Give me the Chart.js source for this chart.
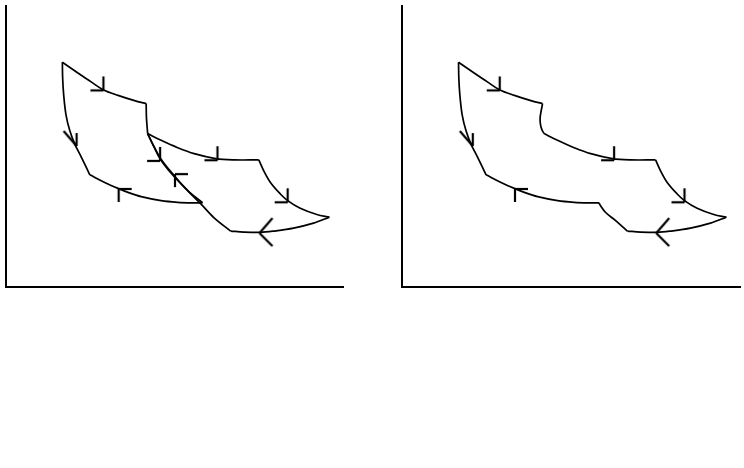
<!DOCTYPE html>
<html><head><meta charset="utf-8">
<script src="https://cdn.jsdelivr.net/npm/chart.js@4/dist/chart.umd.min.js"></script>
<style>
html,body{margin:0;padding:0;background:#fff;width:744px;height:468px;overflow:hidden}
.box{position:absolute;top:0;width:350px;height:300px}
</style></head><body>
<div class="box" style="left:0"><canvas id="c1" width="350" height="300"></canvas></div>
<div class="box" style="left:396px"><canvas id="c2" width="350" height="300"></canvas></div>
<script>
// ---- data (volume V, pressure P, arbitrary units) ----
// cycle A
const A1_expansion = [[56.7,226.3],[72.7,215.3],[86,206.3],[97.7,198.7],[112.7,193],[129.3,187.7],[141,184.7]];
const A2_drop      = [[141,184.7],[141.3,170.3],[142.5,154.5]];
const A3_descent   = [[142.5,154.5],[148,143],[155,129],[164,117],[174,106],[185,95],[197.7,85]];
const A4_compress  = [[197.7,84.7],[187.7,84.7],[172.7,85.3],[156,87],[136,91],[122.7,95.3],[112.7,99.3],[99.3,105.3],[84.3,113]];
const A5_rise      = [[84.3,113],[76,130.3],[69.3,143.7],[64.3,157],[60.3,173.7],[58,193.7],[57,210.3],[56.7,226.3]];
// cycle B
const B1_expansion = [[142.5,154.5],[156,147.7],[172.7,140.3],[189.3,134.3],[211,129.3],[229.3,128],[254.3,128]];
const B2_descent   = [[254.3,128],[259.3,117],[266,105.3],[276,93.7],[283.3,87],[296,79.3],[312.7,73],[325.3,70.3]];
const B3_compress  = [[325.3,70.3],[309.3,64.3],[289.3,59.3],[269.3,56.3],[256,55],[239.3,55.3],[226,56.3]];
const B4_rise      = [[226,56.3],[209.3,69.7],[196,83.7],[182.7,97],[169.3,112],[156,128.7],[147.7,143.7],[142.5,154.5]];
// combined cycle joins
const C1_join = [[141,184.7],[139.5,177],[138.5,170],[139,163],[140.5,158],[142.5,154.5]];
const C2_join = [[226,56.3],[214,67],[204,75.3],[199,82],[197.7,84.7]];
// direction arrows: [V, P, direction]
const arrowsLeft  = [[98,198,'dr'],[71,142,'d'],[155,127,'dr'],[170,113.7,'ul'],[212.7,127.7,'dr'],[283.3,85.3,'dr'],[255,54.3,'l'],[113.3,98.7,'ul']];
const arrowsRight = [[98,198,'dr'],[71,142,'d'],[212.7,127.7,'dr'],[283.3,85.3,'dr'],[255,54.3,'l'],[113.3,98.7,'ul']];
const axisRange = {vMax:339, pMax:283};

// ---- arrowhead glyphs ----
const barbs = {
  dr: [[-13,0],[0,-14]],
  ul: [[13,0],[0,13]],
  l:  [[13,-15],[13,13]],
  d:  [[0,-13],[-13,-15]]
};
const glyphs = {};
for (const k in barbs) {
  const c = document.createElement('canvas');
  c.width = 44; c.height = 44;
  const g = c.getContext('2d');
  g.strokeStyle = '#000'; g.lineWidth = 2.2; g.lineCap = 'butt';
  for (const [dx,dy] of barbs[k]) {
    g.beginPath(); g.moveTo(22,22); g.lineTo(22+dx,22+dy); g.stroke();
  }
  glyphs[k] = c;
}

const pts = a => a.map(([x,y]) => ({x,y}));
const curve = a => ({data: pts(a), showLine: true, pointRadius: 0, borderColor: '#000', borderWidth: 1.7, tension: 0.35, fill: false});
const arrowSet = a => ({data: a.map(([x,y]) => ({x,y})), showLine: false, pointRadius: 5, pointHoverRadius: 5,
  pointStyle: a.map(r => glyphs[r[2]]), borderColor: '#000', backgroundColor: '#000'});

function opts(padRight) {
  return {
    responsive: false, animation: false, events: [],
    layout: {padding: {left: 4, top: 4, right: padRight, bottom: 13}},
    plugins: {legend: {display: false}, tooltip: {enabled: false}},
    scales: {
      x: {type: 'linear', min: 0, max: axisRange.vMax, grid: {display: false, drawTicks: false},
          ticks: {display: false}, border: {display: true, color: '#000', width: 2}},
      y: {type: 'linear', min: 0, max: axisRange.pMax, grid: {display: false, drawTicks: false},
          ticks: {display: false}, border: {display: true, color: '#000', width: 2}}
    }
  };
}

new Chart(document.getElementById('c1'), {
  type: 'scatter',
  data: {datasets: [A1_expansion, A2_drop, A3_descent, A4_compress, A5_rise,
                    B1_expansion, B2_descent, B3_compress, B4_rise].map(curve).concat([arrowSet(arrowsLeft)])},
  options: opts(7)
});
new Chart(document.getElementById('c2'), {
  type: 'scatter',
  data: {datasets: [A1_expansion, C1_join, B1_expansion, B2_descent, B3_compress,
                    C2_join, A4_compress, A5_rise].map(curve).concat([arrowSet(arrowsRight)])},
  options: opts(5)
});
</script>
</body></html>
